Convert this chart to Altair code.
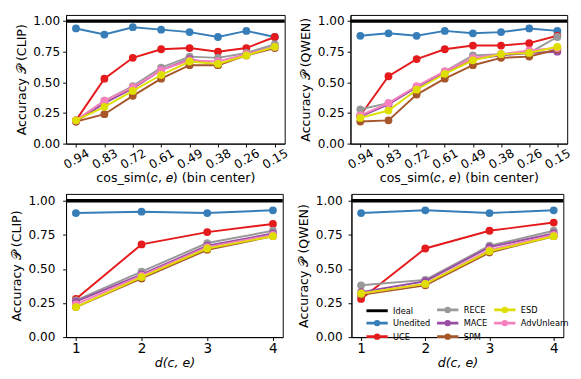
import altair as alt
import pandas as pd

# ---------------- data ----------------
bins = ["0.94", "0.83", "0.72", "0.61", "0.49", "0.38", "0.26", "0.15"]
dists = [1, 2, 3, 4]

draw_order = ["Unedited", "UCE", "RECE", "MACE", "SPM", "AdvUnlearn", "ESD"]
legend_order = ["Ideal", "Unedited", "UCE", "RECE", "MACE", "SPM", "ESD", "AdvUnlearn"]

clip_bin = {
    "Unedited":   [0.94, 0.89, 0.95, 0.93, 0.91, 0.87, 0.92, 0.87],
    "UCE":        [0.19, 0.53, 0.70, 0.77, 0.78, 0.75, 0.78, 0.87],
    "RECE":       [0.19, 0.35, 0.47, 0.62, 0.71, 0.70, 0.74, 0.81],
    "MACE":       [0.18, 0.33, 0.45, 0.60, 0.69, 0.64, 0.73, 0.79],
    "SPM":        [0.18, 0.24, 0.39, 0.53, 0.64, 0.64, 0.72, 0.78],
    "AdvUnlearn": [0.19, 0.35, 0.46, 0.60, 0.68, 0.67, 0.73, 0.79],
    "ESD":        [0.19, 0.30, 0.43, 0.56, 0.67, 0.65, 0.72, 0.79],
}
qwen_bin = {
    "Unedited":   [0.88, 0.90, 0.88, 0.92, 0.90, 0.91, 0.94, 0.92],
    "UCE":        [0.23, 0.55, 0.69, 0.77, 0.80, 0.80, 0.82, 0.88],
    "RECE":       [0.28, 0.33, 0.46, 0.59, 0.72, 0.73, 0.74, 0.87],
    "MACE":       [0.22, 0.32, 0.46, 0.58, 0.69, 0.72, 0.74, 0.75],
    "SPM":        [0.18, 0.19, 0.40, 0.53, 0.64, 0.70, 0.71, 0.77],
    "AdvUnlearn": [0.23, 0.33, 0.47, 0.59, 0.70, 0.73, 0.76, 0.78],
    "ESD":        [0.21, 0.27, 0.44, 0.57, 0.68, 0.73, 0.74, 0.79],
}
clip_dist = {
    "Unedited":   [0.91, 0.92, 0.91, 0.93],
    "UCE":        [0.28, 0.68, 0.77, 0.83],
    "RECE":       [0.27, 0.48, 0.69, 0.78],
    "MACE":       [0.26, 0.46, 0.67, 0.76],
    "SPM":        [0.22, 0.43, 0.64, 0.74],
    "AdvUnlearn": [0.24, 0.45, 0.66, 0.75],
    "ESD":        [0.22, 0.44, 0.65, 0.74],
}
qwen_dist = {
    "Unedited":   [0.91, 0.93, 0.91, 0.93],
    "UCE":        [0.28, 0.65, 0.78, 0.84],
    "RECE":       [0.38, 0.42, 0.67, 0.78],
    "MACE":       [0.33, 0.41, 0.66, 0.76],
    "SPM":        [0.31, 0.38, 0.62, 0.74],
    "AdvUnlearn": [0.32, 0.39, 0.64, 0.75],
    "ESD":        [0.32, 0.39, 0.63, 0.74],
}
ideal_value = [1.0]

# ---------------- style ----------------
colors = {
    "Ideal": "#000000",
    "Unedited": "#377eb8",
    "UCE": "#e41a1c",
    "RECE": "#999999",
    "MACE": "#984ea3",
    "SPM": "#a65628",
    "ESD": "#dede00",
    "AdvUnlearn": "#f781bf",
}
LINE_PATH = "M-2.75,0H2.75"
MARK_PATH = "M-2.75,0H2.75M0.45,0A0.45,0.45,0,1,1,-0.45,0A0.45,0.45,0,1,1,0.45,0"
FONT = "DejaVu Sans"


def panel(xvals, data, kind, ytitle, width, height, ylabpad, legend=False):
    rows = []
    for s in draw_order:
        for xv, v in zip(xvals, data[s]):
            rows.append({"x": xv, "series": s, "acc": v})
    df = pd.DataFrame(rows)

    if kind == "bin":
        xenc = alt.X(
            "x:N", sort=xvals,
            scale=alt.Scale(type="point", padding=0.35),
            axis=alt.Axis(title="cos_sim(𝑐, 𝑒) (bin center)", labelAngle=-30,
                          labelAlign="center", labelBaseline="middle",
                          labelPadding=12, titlePadding=1, labelFontSize=12.5),
        )
    else:
        xenc = alt.X(
            "x:Q",
            scale=alt.Scale(domain=[0.85, 4.15], nice=False, zero=False),
            axis=alt.Axis(title="d(c, e)", titleFontStyle="italic", values=xvals,
                          format="d", labelPadding=1, titlePadding=2, labelFontSize=14),
        )
    yenc = alt.Y(
        "acc:Q",
        scale=alt.Scale(domain=[0, 1.05], nice=False, zero=False),
        axis=alt.Axis(title=ytitle, values=[0, 0.25, 0.5, 0.75, 1.0], format=".2f",
                      labelPadding=ylabpad, titlePadding=5),
    )

    layers = [
        alt.Chart(pd.DataFrame({"acc": ideal_value}))
        .mark_rule(color=colors["Ideal"], strokeWidth=3.5)
        .encode(y=yenc)
    ]
    for s in draw_order:
        c = colors[s]
        layers.append(
            alt.Chart(df[df.series == s])
            .mark_line(color=c, strokeWidth=2,
                       point=alt.OverlayMarkDef(filled=True, size=65, color=c, opacity=1))
            .encode(x=xenc, y=yenc)
        )
    if legend:
        leg = alt.Legend(
            title=None, orient="none", legendX=316, legendY=299, columns=3,
            symbolSize=64, symbolStrokeWidth=3, symbolOpacity=1,
            labelFont=FONT, labelFontSize=8.5, labelColor="black",
            labelOffset=11, columnPadding=0, rowPadding=-3.6, padding=0,
        )
        rng = [colors[s] for s in legend_order]
        shapes = [LINE_PATH if s == "Ideal" else MARK_PATH for s in legend_order]
        layers.append(
            alt.Chart(pd.DataFrame({"series": legend_order}))
            .mark_point(filled=True)
            .encode(
                fill=alt.Fill("series:N", scale=alt.Scale(domain=legend_order, range=rng), legend=leg),
                stroke=alt.Stroke("series:N", scale=alt.Scale(domain=legend_order, range=rng), legend=leg),
                shape=alt.Shape("series:N", scale=alt.Scale(domain=legend_order, range=shapes), legend=leg),
            )
            .transform_filter("datum.series == 'none'")
        )
    return alt.layer(*layers).properties(width=width, height=height)


tl = panel(bins, clip_bin, "bin", "Accuracy 𝒫 (CLIP)", 226, 133, 3)
tr = panel(bins, qwen_bin, "bin", "Accuracy 𝒫 (QWEN)", 224, 133, 3)
bl = panel(dists, clip_dist, "dist", "Accuracy 𝒫 (CLIP)", 224, 148, 8)
br = panel(dists, qwen_dist, "dist", "Accuracy 𝒫 (QWEN)", 219, 148, 6, legend=True)

chart = (
    alt.vconcat(alt.hconcat(tl, tr, spacing=9), alt.hconcat(bl, br, spacing=12), spacing=8)
    .properties(padding={"left": 2, "top": 0, "right": 0, "bottom": 0})
    .configure(font=FONT)
    .configure_view(stroke="black", strokeWidth=1)
    .configure_axis(
        labelFont=FONT, labelFontSize=12.5, labelColor="black",
        titleFont=FONT, titleFontSize=13, titleFontWeight="normal", titleColor="black",
        tickColor="black", tickSize=3.5, domainColor="black", grid=False,
    )
)

chart.save("out.html", embed_options={"renderer": "svg", "actions": False})
